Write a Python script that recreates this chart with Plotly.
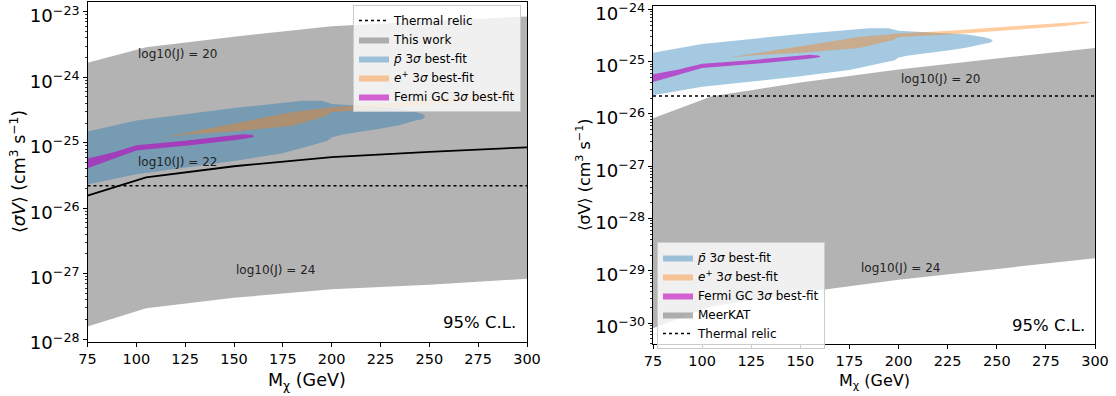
import plotly.graph_objects as go

# ---------------- data ----------------
mass = [75, 105, 150, 200, 250, 300]

# Left panel: "This work" band (log10 J = 20 upper edge, 24 lower edge) and J = 22 line
this_work_upper = [1.66e-24, 2.88e-24, 4.17e-24, 6.03e-24, 7.24e-24, 8.51e-24]
this_work_j22 = [1.55e-26, 2.95e-26, 4.37e-26, 6.03e-26, 7.24e-26, 8.51e-26]
this_work_lower = [1.55e-28, 2.95e-28, 4.27e-28, 5.75e-28, 6.76e-28, 8.32e-28]

# Right panel: MeerKAT band
meerkat_upper = [8.32e-27, 2.19e-26, 3.98e-26, 7.08e-26, 1.15e-25, 1.82e-25]
meerkat_lower = [7.94e-31, 2.09e-30, 3.80e-30, 6.76e-30, 1.10e-29, 1.74e-29]

thermal_relic = 2.2e-26
x_range = [75, 300]

# p-bar 3 sigma best-fit region outline (mass, <sigma v>)
pbar_mass = [75, 100, 150, 185, 195, 200, 226, 235, 243, 246.5, 248,
             246.5, 243, 235, 226, 205, 200, 198, 175, 150, 100, 75]
pbar_sv = [1.48e-25, 2.19e-25, 3.39e-25, 4.37e-25, 4.37e-25, 3.89e-25, 3.47e-25, 3.31e-25,
           2.95e-25, 2.75e-25, 2.51e-25,
           2.29e-25, 2.19e-25, 1.86e-25, 1.66e-25, 1.32e-25, 1.20e-25, 1.07e-25,
           6.92e-26, 5.25e-26, 3.31e-26, 2.29e-26]

# e+ 3 sigma best-fit region outline
epos_mass = [115, 125, 150, 180, 200, 226, 260, 285, 295, 298,
             295, 285, 260, 226, 200, 197, 180, 150, 125, 117]
epos_sv = [1.23e-25, 1.41e-25, 1.95e-25, 2.95e-25, 3.47e-25, 3.89e-25, 4.79e-25, 5.50e-25,
           5.89e-25, 5.69e-25,
           5.37e-25, 4.79e-25, 4.07e-25, 3.31e-25, 2.95e-25, 2.57e-25, 1.82e-25,
           1.48e-25, 1.32e-25, 1.23e-25]

# Fermi GC 3 sigma best-fit region outline
fermi_mass = [75, 88, 100, 125, 145, 155, 159, 160.5, 159, 153, 130, 100, 88, 75]
fermi_sv = [5.75e-26, 7.08e-26, 9.12e-26, 1.07e-25, 1.26e-25, 1.35e-25, 1.32e-25, 1.26e-25,
            1.20e-25, 1.12e-25, 9.33e-26, 7.59e-26, 5.62e-26, 4.07e-26]

mass_ticks = [75, 100, 125, 150, 175, 200, 225, 250, 275, 300]

# ---------------- styles ----------------
FONT = "DejaVu Sans"
GRAY = "rgba(128,128,128,0.6)"
BLUE = "rgba(31,119,180,0.4)"
ORANGE = "rgba(255,127,14,0.4)"
PURPLE = "rgba(191,0,191,0.6)"

fig = go.Figure()


def band(x, up, lo, name, xa, ya, leg, rank):
    fig.add_trace(go.Scatter(
        x=list(x) + list(x)[::-1], y=list(up) + list(lo)[::-1],
        fill="toself", fillcolor=GRAY, line=dict(width=0), mode="lines",
        name=name, xaxis=xa, yaxis=ya, legend=leg, legendrank=rank, hoverinfo="skip"))


def region(x, y, color, name, xa, ya, leg, rank):
    fig.add_trace(go.Scatter(
        x=x, y=y, fill="toself", fillcolor=color, line=dict(width=0), mode="lines",
        name=name, xaxis=xa, yaxis=ya, legend=leg, legendrank=rank, hoverinfo="skip"))


PBAR = "<i>p̄</i> 3<i>σ</i> best-fit"
EPOS = "<i>e</i><sup>+</sup> 3<i>σ</i> best-fit"
FERMI = "Fermi GC 3<i>σ</i> best-fit"

# left panel
band(mass, this_work_upper, this_work_lower, "This work", "x", "y", "legend", 2)
region(pbar_mass, pbar_sv, BLUE, PBAR, "x", "y", "legend", 3)
region(epos_mass, epos_sv, ORANGE, EPOS, "x", "y", "legend", 4)
region(fermi_mass, fermi_sv, PURPLE, FERMI, "x", "y", "legend", 5)
fig.add_trace(go.Scatter(x=mass, y=this_work_j22, mode="lines", line=dict(color="black", width=1.8),
                         showlegend=False, xaxis="x", yaxis="y", hoverinfo="skip"))
fig.add_trace(go.Scatter(x=x_range, y=[thermal_relic] * 2, mode="lines",
                         line=dict(color="black", width=1.6, dash="dot"),
                         name="Thermal relic", xaxis="x", yaxis="y", legend="legend", legendrank=1))

# right panel
band(mass, meerkat_upper, meerkat_lower, "MeerKAT", "x2", "y2", "legend2", 4)
region(pbar_mass, pbar_sv, BLUE, PBAR, "x2", "y2", "legend2", 1)
region(epos_mass, epos_sv, ORANGE, EPOS, "x2", "y2", "legend2", 2)
region(fermi_mass, fermi_sv, PURPLE, FERMI, "x2", "y2", "legend2", 3)
fig.add_trace(go.Scatter(x=x_range, y=[thermal_relic] * 2, mode="lines",
                         line=dict(color="black", width=1.6, dash="dot"),
                         name="Thermal relic", xaxis="x2", yaxis="y2", legend="legend2", legendrank=5))

W, H = 1116, 396


def xax(domain, anchor):
    return dict(domain=domain, anchor=anchor, range=x_range, tickvals=mass_ticks,
                ticks="outside", ticklen=4, tickwidth=1, tickcolor="black",
                showline=True, linecolor="black", linewidth=1, mirror=True,
                showgrid=False, zeroline=False, ticklabeloverflow="allow", automargin=False,
                tickfont=dict(size=14.5, color="black"))


def yax(domain, anchor, rng):
    return dict(domain=domain, anchor=anchor, type="log", range=rng, dtick=1,
                exponentformat="power", ticks="outside", ticklen=4, tickwidth=1, tickcolor="black",
                minor=dict(ticks="outside", ticklen=2, tickcolor="black", tickwidth=0.8),
                showline=True, linecolor="black", linewidth=1, mirror=True,
                showgrid=False, zeroline=False, ticklabeloverflow="allow", automargin=False,
                ticklabelshift=4,
                tickfont=dict(size=14.5, color="black"))


legend_style = dict(bgcolor="rgba(255,255,255,0.8)", bordercolor="#cccccc", borderwidth=1,
                    font=dict(family=FONT, size=12, color="black"), itemwidth=30,
                    tracegroupgap=0)

fig.update_layout(
    template="none",
    width=W, height=H, autosize=False, margin=dict(l=0, r=0, t=0, b=0, pad=0, autoexpand=False),
    paper_bgcolor="white", plot_bgcolor="white",
    font=dict(family=FONT, color="black"),
    xaxis=xax([87.5 / W, 527 / W], "y"),
    yaxis=yax([1 - 342 / H, 1 - 2 / H], "x", [-28.045, -22.85]),
    xaxis2=xax([653 / W, 1095 / W], "y2"),
    yaxis2=yax([1 - 344 / H, 1 - 6 / H], "x2", [-30.40, -23.935]),
    legend=dict(x=521 / W, y=1 - 5 / H, xanchor="right", yanchor="top", **legend_style),
    legend2=dict(x=657 / W, y=1 - 242 / H, xanchor="left", yanchor="top", **legend_style),
)

ann = []
# curve labels
for x, y, t, xr, yr in [(100, -23.64, "log10(J) = 20", "x", "y"),
                        (100, -25.30, "log10(J) = 22", "x", "y"),
                        (150, -26.95, "log10(J) = 24", "x", "y"),
                        (200, -25.34, "log10(J) = 20", "x2", "y2"),
                        (180, -28.95, "log10(J) = 24", "x2", "y2")]:
    ann.append(dict(x=x, y=y, xref=xr, yref=yr, text=t, showarrow=False, xanchor="left",
                    yanchor="middle", font=dict(size=12, color="#222222")))
# C.L. labels
ann.append(dict(x=518 / W, y=1 - 322 / H, xref="paper", yref="paper", text="95% C.L.",
                showarrow=False, xanchor="right", yanchor="middle", font=dict(size=16.5)))
ann.append(dict(x=1087 / W, y=1 - 325 / H, xref="paper", yref="paper", text="95% C.L.",
                showarrow=False, xanchor="right", yanchor="middle", font=dict(size=16.5)))
# axis titles
ann.append(dict(x=307 / W, y=1 - 381 / H, xref="paper", yref="paper",
                text="M<sub>χ</sub> (GeV)", showarrow=False, xanchor="center", yanchor="middle",
                font=dict(size=17.5)))
ann.append(dict(x=874 / W, y=1 - 381 / H, xref="paper", yref="paper",
                text="M<sub>χ</sub> (GeV)", showarrow=False, xanchor="center", yanchor="middle",
                font=dict(size=16)))
ann.append(dict(x=18 / W, y=1 - 172 / H, xref="paper", yref="paper",
                text="⟨<i>σV</i>⟩ (cm<sup>3</sup> s<sup>−1</sup>)", showarrow=False, textangle=-90,
                xanchor="center", yanchor="middle", font=dict(size=17.5)))
ann.append(dict(x=583 / W, y=1 - 175 / H, xref="paper", yref="paper",
                text="⟨σV⟩ (cm<sup>3</sup> s<sup>−1</sup>)", showarrow=False, textangle=-90,
                xanchor="center", yanchor="middle", font=dict(size=16)))
fig.update_layout(annotations=ann)

fig.write_html("out.html", config={"displayModeBar": False, "responsive": False,
                                   "staticPlot": True})

# remove the default page margin so the figure sits at the window origin
with open("out.html", "r", encoding="utf-8") as f:
    html = f.read()
html = html.replace("<head>", "<head><style>html,body{margin:0;padding:0;overflow:hidden;}</style>", 1)
with open("out.html", "w", encoding="utf-8") as f:
    f.write(html)
